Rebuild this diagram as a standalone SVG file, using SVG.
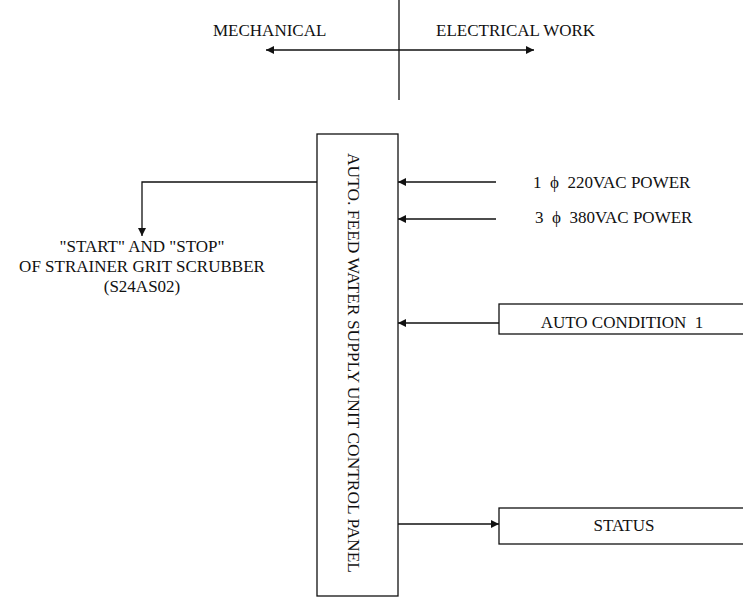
<svg xmlns="http://www.w3.org/2000/svg" width="743" height="600" viewBox="0 0 743 600">
<style>
text{font-family:"Liberation Serif","Times New Roman",serif;font-size:17px;fill:#111;white-space:pre}
.ln{stroke:#111;stroke-width:1.3;fill:none}
.bx{stroke:#111;stroke-width:1.3;fill:#fff}
</style>
<defs>
<marker id="ah" viewBox="0 0 10 10" refX="10" refY="5" markerWidth="8" markerHeight="8" markerUnits="userSpaceOnUse" orient="auto-start-reverse">
<path d="M0,0 L10,5 L0,10 z" fill="#111"/>
</marker>
</defs>
<rect width="743" height="600" fill="#fff"/>
<g id="header">
<line class="ln" x1="399" y1="0" x2="399" y2="100"/>
<line class="ln" x1="266" y1="50" x2="534" y2="50" marker-start="url(#ah)" marker-end="url(#ah)"/>
<text x="213" y="36">MECHANICAL</text>
<text x="436" y="36">ELECTRICAL WORK</text>
</g>
<g id="connectors">
<polyline class="ln" points="317,182 142,182 142,236" marker-end="url(#ah)"/>
<line class="ln" x1="496" y1="182" x2="398" y2="182" marker-end="url(#ah)"/>
<line class="ln" x1="496" y1="219" x2="398" y2="219" marker-end="url(#ah)"/>
<line class="ln" x1="499" y1="323" x2="398" y2="323" marker-end="url(#ah)"/>
<line class="ln" x1="398" y1="524" x2="499" y2="524" marker-end="url(#ah)"/>
</g>
<g id="panel">
<rect class="bx" x="317" y="134" width="81" height="462"/>
<text transform="translate(348,153) rotate(90)" textLength="420" lengthAdjust="spacingAndGlyphs">AUTO. FEED WATER SUPPLY UNIT CONTROL PANEL</text>
</g>
<g id="scrubber">
<text x="142" y="252" text-anchor="middle">"START" AND "STOP"</text>
<text x="142" y="272" text-anchor="middle">OF STRAINER GRIT SCRUBBER</text>
<text x="142" y="292" text-anchor="middle">(S24AS02)</text>
</g>
<g id="power1">
<text x="533" y="188">1  ϕ  220VAC POWER</text>
</g>
<g id="power3">
<text x="535" y="223">3  ϕ  380VAC POWER</text>
</g>
<g id="auto-condition">
<rect class="bx" x="499" y="304" width="250" height="30"/>
<text x="622" y="328" text-anchor="middle">AUTO CONDITION  1</text>
</g>
<g id="status">
<rect class="bx" x="499" y="508" width="250" height="36"/>
<text x="624" y="531" text-anchor="middle">STATUS</text>
</g>
</svg>
